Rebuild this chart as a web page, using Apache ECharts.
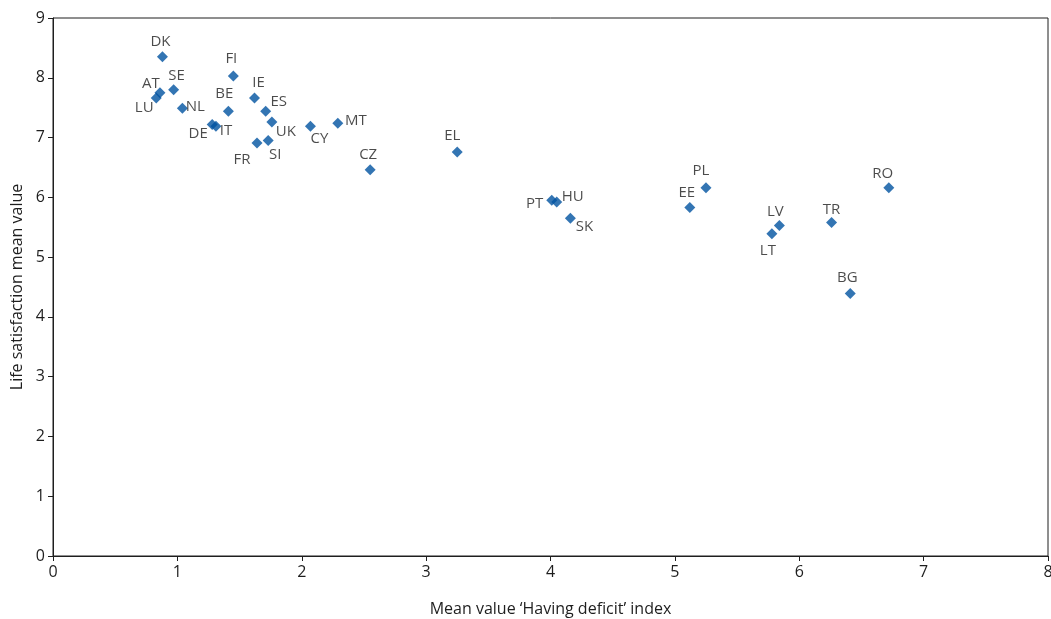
<!DOCTYPE html>
<html><head><meta charset="utf-8">
<script src="https://cdn.jsdelivr.net/npm/echarts@6/dist/echarts.min.js"></script>
<style>html,body{margin:0;padding:0;background:#fff}#c{width:1051px;height:619px}</style>
</head><body><div id="c"></div>
<script>
const countries = ['DK','SE','AT','LU','NL','BE','FI','IE','ES','UK','DE','IT','FR','SI','CY','MT','CZ','EL','PT','HU','SK','EE','PL','LV','LT','TR','RO','BG'];
const deficitIndex = [0.88,0.97,0.86,0.83,1.04,1.41,1.45,1.62,1.71,1.76,1.28,1.31,1.64,1.73,2.07,2.29,2.55,3.25,4.01,4.05,4.16,5.12,5.25,5.84,5.78,6.26,6.72,6.41];
const lifeSatisfaction = [8.35,7.80,7.75,7.66,7.49,7.44,8.03,7.66,7.44,7.26,7.22,7.19,6.91,6.95,7.19,7.24,6.46,6.76,5.95,5.92,5.65,5.83,6.16,5.53,5.39,5.58,6.16,4.39];
const xTicks = [0,1,2,3,4,5,6,7,8];
const yTicks = [0,1,2,3,4,5,6,7,8,9];

// label placement (style only)
const labelOffset = {
  DK:[-2,-15], SE:[3,-14], AT:[-9,-9], LU:[-12,10], NL:[13,-2], BE:[-4,-18], FI:[-2,-17],
  IE:[4,-15], ES:[13,-10], UK:[14,10], DE:[-14,9], IT:[10,5], FR:[-15,17], SI:[7,14],
  CY:[9,13], MT:[18,-2], CZ:[-2,-15], EL:[-5,-16], PT:[-17,3], HU:[16,-5], SK:[14,8],
  EE:[-3,-15], PL:[-5,-17], LV:[-4,-14], LT:[-4,17], TR:[0,-13], RO:[-6,-14], BG:[-3,-16]
};

const FONT = '"Open Sans", "Noto Sans", sans-serif';
const TXT = '#1e1e1e';
const data = countries.map((c,i)=>({
  name:c, value:[deficitIndex[i], lifeSatisfaction[i]],
  label:{offset: labelOffset[c]}
}));

const chart = echarts.init(document.getElementById('c'), null, {renderer:'canvas'});
chart.setOption({
  animation:false,
  grid:{left:53, top:18, right:3, bottom:63, containLabel:false, outerBoundsMode:'none',
        show:true, borderColor:'#1e1e1e', borderWidth:1, backgroundColor:'transparent'},
  xAxis:{
    type:'value', min:xTicks[0], max:xTicks[xTicks.length-1], interval:1,
    name:'Mean value \u2018Having deficit\u2019 index', nameLocation:'middle', nameGap:45,
    nameTextStyle:{fontFamily:FONT, fontSize:16, color:TXT},
    axisLine:{show:true, lineStyle:{color:'#1e1e1e', width:1}},
    axisTick:{show:true, length:5, lineStyle:{color:'#1e1e1e'}},
    axisLabel:{fontFamily:FONT, fontSize:16, color:TXT, margin:8},
    splitLine:{show:false}
  },
  yAxis:{
    type:'value', min:yTicks[0], max:yTicks[yTicks.length-1], interval:1,
    name:'Life satisfaction mean value', nameLocation:'middle', nameGap:28, nameRotate:90,
    nameTextStyle:{fontFamily:FONT, fontSize:16, color:TXT},
    axisLine:{show:true, lineStyle:{color:'#1e1e1e', width:1}},
    axisTick:{show:true, length:5, lineStyle:{color:'#1e1e1e'}},
    axisLabel:{fontFamily:FONT, fontSize:16, color:TXT, margin:8},
    splitLine:{show:false}
  },
  series:[{
    type:'scatter', symbol:'diamond', symbolSize:11,
    itemStyle:{color:'#0052a0'},
    label:{show:true, position:'inside', formatter:'{b}', fontFamily:FONT, fontSize:15, color:TXT},
    data:data
  }]
});
</script></body></html>
